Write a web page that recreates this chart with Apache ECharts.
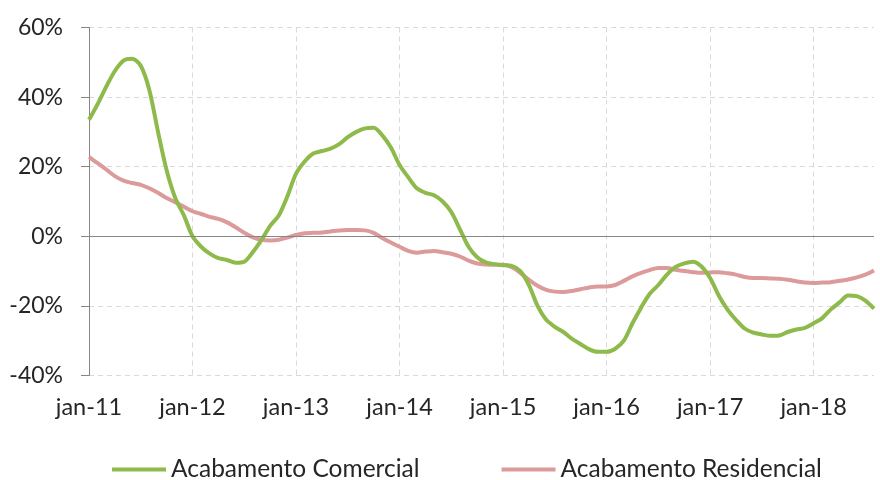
<!DOCTYPE html>
<html>
<head>
<meta charset="utf-8">
<script src="https://cdn.jsdelivr.net/npm/echarts@6/dist/echarts.min.js"></script>
<style>
  html, body { margin: 0; padding: 0; background: #fff; }
  #chart { width: 880px; height: 480px; }
</style>
</head>
<body>
<div id="chart"></div>
<script>
// months jan-11 .. aug-18
var meses = ['jan', 'fev', 'mar', 'abr', 'mai', 'jun', 'jul', 'ago', 'set', 'out', 'nov', 'dez'];
var categorias = [];
for (var a = 11; a <= 18; a++) {
  for (var m = 0; m < 12; m++) {
    if (a === 18 && m > 7) break;
    categorias.push(meses[m] + '-' + a);
  }
}

// Acabamento Comercial (%)
var comercial = [
  33.5, 38, 43, 47.5, 50.5, 51, 49, 42, 30, 19, 11, 6,
  0, -3, -5, -6.3, -6.8, -7.6, -7.3, -4.5, -1, 3, 6, 11.5,
  18, 21.5, 23.8, 24.5, 25.2, 26.5, 28.5, 30, 31, 31.2, 29, 25.5,
  20.5, 17, 13.8, 12.5, 11.8, 10, 7, 2, -3, -6, -7.5, -8,
  -8.3, -8.5, -10, -14, -20, -24, -26, -27.5, -29.5, -31, -32.5, -33.2,
  -33.2, -32.3, -30, -25, -20.5, -16.5, -14, -11, -8.8, -7.8, -7.3, -8.7,
  -12, -17, -21, -24, -26.5, -27.7, -28.2, -28.6, -28.5, -27.5, -26.8, -26.3,
  -25, -23.5, -21, -19, -17, -17.2, -18.5, -20.8
];

// Acabamento Residencial (%)
var residencial = [
  22.8, 21, 19.2, 17.3, 16, 15.3, 14.8, 13.8, 12.5, 11, 9.8, 8.5,
  7.2, 6.4, 5.6, 5, 4, 2.6, 1, -0.3, -1, -1.2, -1, -0.4,
  0.4, 0.9, 1, 1.1, 1.4, 1.7, 1.8, 1.8, 1.7, 1, -0.5, -1.8,
  -3, -4.2, -4.7, -4.4, -4.2, -4.6, -5, -5.8, -7, -7.8, -8.1, -8.2,
  -8.2, -8.9, -10.5, -12.5, -14.2, -15.4, -15.9, -16, -15.7, -15.2, -14.7, -14.4,
  -14.4, -14, -12.8, -11.5, -10.5, -9.7, -9.1, -9.1, -9.6, -10, -10.3, -10.5,
  -10.4, -10.3, -10.6, -11, -11.7, -12, -12, -12.1, -12.2, -12.5, -12.9, -13.3,
  -13.4, -13.3, -13.2, -12.8, -12.4, -11.8, -11, -9.8
];

var nomes = ['Acabamento Comercial', 'Acabamento Residencial'];
var cores = ['#8dba4a', '#dc9a9a'];

var fonte = 'Lato, "Open Sans", sans-serif';

var option = {
  animation: false,
  textStyle: { fontFamily: fonte },
  grid: {
    left: 89,
    right: 6,
    top: 27.5,
    bottom: 104.5
  },
  legend: {
    left: 107,
    top: 452,
    icon: 'rect',
    itemWidth: 54,
    itemHeight: 4,
    itemGap: 82,
    textStyle: {
      fontFamily: fonte,
      fontSize: 24.5,
      color: '#262626'
    },
    data: nomes
  },
  xAxis: {
    type: 'category',
    data: categorias,
    boundaryGap: false,
    axisLine: { show: false },
    axisTick: { show: false },
    axisLabel: {
      interval: 11,
      margin: 20,
      fontFamily: fonte,
      fontSize: 23.5,
      color: '#262626'
    },
    splitLine: {
      show: true,
      interval: 11,
      lineStyle: { color: '#d9d9d9', type: [5, 4], width: 1 }
    }
  },
  yAxis: {
    type: 'value',
    min: -40,
    max: 60,
    interval: 20,
    axisLine: { show: true, lineStyle: { color: '#868686' } },
    axisTick: { show: true, length: 8, lineStyle: { color: '#868686' } },
    axisLabel: {
      formatter: '{value}%',
      margin: 26,
      fontFamily: fonte,
      fontSize: 23,
      color: '#262626'
    },
    splitLine: {
      lineStyle: { color: '#d9d9d9', type: [5, 4], width: 1 }
    }
  },
  series: [
    {
      name: nomes[0],
      type: 'line',
      data: comercial,
      smooth: 0.3,
      showSymbol: false,
      color: cores[0],
      lineStyle: { width: 4, color: cores[0] },
      z: 3
    },
    {
      name: nomes[1],
      type: 'line',
      data: residencial,
      smooth: 0.3,
      showSymbol: false,
      color: cores[1],
      lineStyle: { width: 4, color: cores[1] },
      z: 2,
      markLine: {
        silent: true,
        symbol: 'none',
        label: { show: false },
        lineStyle: { color: '#868686', type: 'solid', width: 1 },
        data: [{ yAxis: 0 }]
      }
    }
  ]
};

var chart = echarts.init(document.getElementById('chart'));
chart.setOption(option);
</script>
</body>
</html>
